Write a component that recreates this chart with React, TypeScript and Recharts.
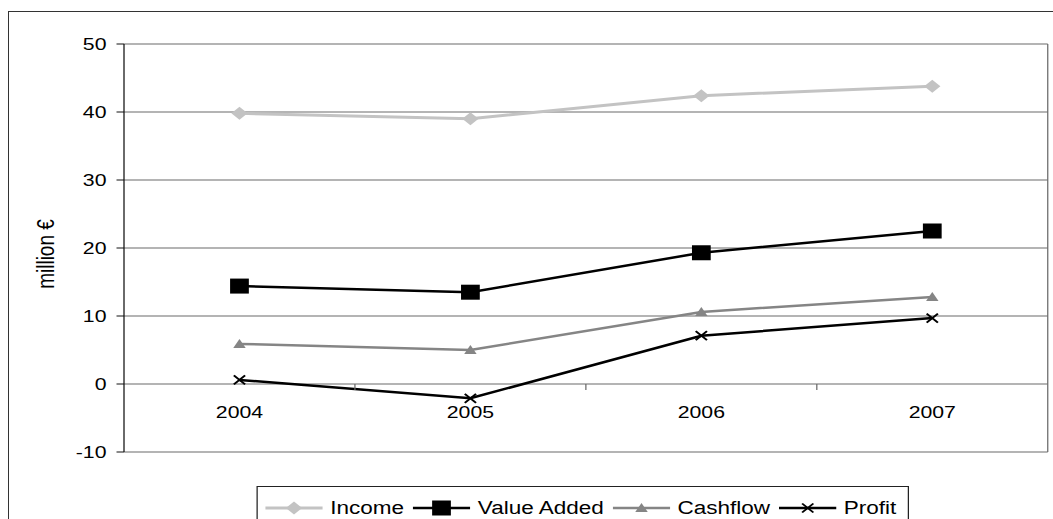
import { LineChart, Line, XAxis, YAxis, CartesianGrid, Legend, Label } from 'recharts';

const YEARS = ['2004', '2005', '2006', '2007'];
const INCOME = [39.8, 39.0, 42.4, 43.8];
const VALUE_ADDED = [14.4, 13.5, 19.3, 22.5];
const CASHFLOW = [5.9, 5.0, 10.6, 12.8];
const PROFIT = [0.6, -2.1, 7.1, 9.7];
const Y_TICKS = [-10, 0, 10, 20, 30, 40, 50];

const data = YEARS.map((year, i) => ({
  year,
  income: INCOME[i],
  valueAdded: VALUE_ADDED[i],
  cashflow: CASHFLOW[i],
  profit: PROFIT[i],
}));

const FONT = '"Liberation Sans", Arial, sans-serif';

// chart is drawn narrow and stretched sideways, like the original picture
const STRETCH = 1.25;
const CHART_W = 836;
const CHART_H = 507;
const MARGIN = { top: 32, right: 5, left: 0, bottom: 0 };
const Y_AXIS_W = 92;
const X_AXIS_H = 67;
const PLOT_W = CHART_W - MARGIN.left - MARGIN.right - Y_AXIS_W;
const PLOT_H = CHART_H - MARGIN.top - MARGIN.bottom - X_AXIS_H;
const BAND = PLOT_W / YEARS.length;
const Y_MIN = -10;
const Y_MAX = 50;
const ZERO_Y = MARGIN.top + (PLOT_H * Y_MAX) / (Y_MAX - Y_MIN);

const GRID = '#6a6a6a';
const LIGHT = '#c3c3c3';
const MID = '#858585';

const Diamond = ({ cx, cy, fill }: any) =>
  cx == null ? null : (
    <polygon points={`${cx},${cy - 6.5} ${cx + 6.5},${cy} ${cx},${cy + 6.5} ${cx - 6.5},${cy}`} fill={fill} />
  );

const Square = ({ cx, cy, fill }: any) =>
  cx == null ? null : <rect x={cx - 7.5} y={cy - 7.5} width={15} height={15} fill={fill} />;

const Triangle = ({ cx, cy, fill }: any) =>
  cx == null ? null : (
    <polygon points={`${cx},${cy - 5} ${cx + 5},${cy + 4} ${cx - 5},${cy + 4}`} fill={fill} />
  );

const Cross = ({ cx, cy, fill }: any) =>
  cx == null ? null : (
    <path d={`M${cx - 4.5},${cy - 4.5}L${cx + 4.5},${cy + 4.5}M${cx - 4.5},${cy + 4.5}L${cx + 4.5},${cy - 4.5}`} stroke={fill} strokeWidth={1.7} />
  );

const SERIES = [
  { key: 'income', name: 'Income', color: LIGHT, width: 3, Marker: Diamond },
  { key: 'valueAdded', name: 'Value Added', color: '#000', width: 2.5, Marker: Square },
  { key: 'cashflow', name: 'Cashflow', color: MID, width: 2.5, Marker: Triangle },
  { key: 'profit', name: 'Profit', color: '#000', width: 2.5, Marker: Cross },
];

const YearTick = ({ x, payload, index }: any) => (
  <g>
    <text x={x} y={ZERO_Y + 34} textAnchor="middle" fontSize={17} fill="#000" fontFamily={FONT}>
      {payload.value}
    </text>
    {index < YEARS.length - 1 && (
      <line x1={x + BAND / 2} x2={x + BAND / 2} y1={ZERO_Y} y2={ZERO_Y + 6} stroke={GRID} />
    )}
  </g>
);

const YLabel = ({ viewBox }: any) => {
  const cx = (viewBox?.x ?? 0) + 30;
  const cy = (viewBox?.y ?? MARGIN.top) + (viewBox?.height ?? PLOT_H) / 2 + 6;
  return (
    <text x={cx} y={cy} transform={`rotate(-90, ${cx}, ${cy})`} textAnchor="middle" dominantBaseline="central"
      fontSize={19} fill="#000" fontFamily={FONT}>
      million €
    </text>
  );
};

const LegendBox = () => (
  <div style={{ display: 'flex', alignItems: 'center', border: '1px solid #222', height: 40, boxSizing: 'border-box',
    padding: '4px 9px 0 6px', alignSelf: 'flex-start', background: '#fff', fontFamily: FONT, fontSize: 18, lineHeight: '20px',
    whiteSpace: 'nowrap' }}>
    {SERIES.map((s, i) => (
      <div key={s.key} style={{ display: 'flex', alignItems: 'center', marginLeft: i === 0 ? 0 : 7, height: 20 }}>
        <svg width={46} height={20} style={{ display: 'block' }}>
          <line x1={0} x2={46} y1={10} y2={10} stroke={s.color} strokeWidth={s.width} />
          <s.Marker cx={23} cy={10} fill={s.color} />
        </svg>
        <span style={{ marginLeft: 6, color: '#000' }}>{s.name}</span>
      </div>
    ))}
  </div>
);

export default function App() {
  return (
    <div style={{ position: 'absolute', left: 0, top: 0, width: 1053, height: 519, overflow: 'hidden', background: '#fff' }}>
      <div style={{ position: 'absolute', left: 8, top: 11, width: 1100, height: 600, border: '1px solid #333' }} />
      <div style={{ position: 'absolute', left: 9, top: 12, transform: `scaleX(${STRETCH})`, transformOrigin: '0 0' }}>
        <LineChart width={CHART_W} height={CHART_H} data={data} margin={MARGIN}>
          <CartesianGrid
            stroke={GRID}
            horizontal
            vertical
            verticalCoordinatesGenerator={({ offset }: any) => [offset.left + offset.width]}
          />
          <XAxis
            dataKey="year"
            height={X_AXIS_H}
            axisLine={false}
            tickLine={false}
            tickSize={0}
            tickMargin={0}
            padding={{ left: BAND / 2, right: BAND / 2 }}
            tick={<YearTick />}
            interval={0}
          />
          <YAxis
            width={Y_AXIS_W}
            domain={[Y_MIN, Y_MAX]}
            ticks={Y_TICKS}
            interval={0}
            axisLine={{ stroke: '#111' }}
            tickLine={{ stroke: '#111' }}
            tickSize={6}
            tickMargin={8}
            tick={{ fill: '#000', fontSize: 17, fontFamily: FONT }}
          >
            <Label content={<YLabel />} />
          </YAxis>
          <Legend
            layout="horizontal"
            verticalAlign="middle"
            align="center"
            content={<LegendBox />}
            wrapperStyle={{ left: 198, top: 474, width: 'auto', height: 'auto' }}
          />
          {SERIES.map((s) => (
            <Line
              key={s.key}
              type="linear"
              dataKey={s.key}
              name={s.name}
              stroke={s.color}
              strokeWidth={s.width}
              dot={(p: any) => <s.Marker key={`${s.key}-${p.index}`} cx={p.cx} cy={p.cy} fill={s.color} />}
              activeDot={false}
              isAnimationActive={false}
            />
          ))}
        </LineChart>
      </div>
    </div>
  );
}
